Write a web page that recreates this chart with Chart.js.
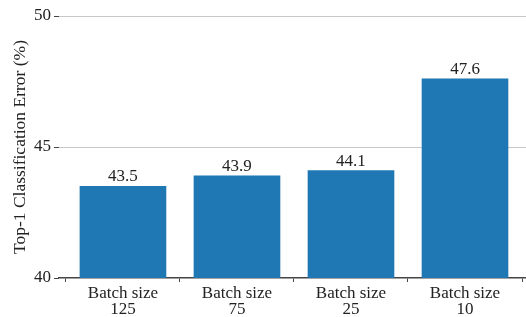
<!DOCTYPE html>
<html>
<head>
<meta charset="utf-8">
<script src="https://cdn.jsdelivr.net/npm/chart.js@4/dist/chart.umd.min.js"></script>
<style>
  html, body { margin: 0; padding: 0; background: #fff; }
</style>
</head>
<body>
<canvas id="chart" width="526" height="317"></canvas>
<script>
// data
const batchSizes = ['125', '75', '25', '10'];
const errors = [43.5, 43.9, 44.1, 47.6];
const yTicks = [40, 45, 50];

const FONT = '"Liberation Serif", "DejaVu Serif", serif';

// value labels above each bar
const valueLabels = {
  id: 'valueLabels',
  afterDatasetsDraw(chart) {
    const ctx = chart.ctx;
    const meta = chart.getDatasetMeta(0);
    ctx.save();
    ctx.font = '17px ' + FONT;
    ctx.fillStyle = '#222';
    ctx.textAlign = 'center';
    ctx.textBaseline = 'bottom';
    meta.data.forEach((bar, i) => {
      ctx.fillText(errors[i].toFixed(1), bar.x, bar.y - 1);
    });
    ctx.restore();
  }
};

new Chart(document.getElementById('chart'), {
  type: 'bar',
  data: {
    datasets: [{
      data: errors.map((v, i) => ({ x: i, y: v })),
      backgroundColor: '#1f77b4',
      barThickness: 86,
      borderWidth: 0
    }]
  },
  options: {
    responsive: false,
    animation: false,
    layout: { padding: { top: 16, right: 0, bottom: 0, left: 0 } },
    plugins: {
      legend: { display: false },
      tooltip: { enabled: false }
    },
    scales: {
      x: {
        type: 'linear',
        offset: false,
        min: -0.561,
        max: 3.535,
        afterBuildTicks: s => { s.ticks = batchSizes.map((b, i) => ({ value: i })); },
        afterFit: s => { s.height = 39; },
        ticks: {
          font: { family: FONT, size: 17, lineHeight: 0.92 },
          color: '#222',
          padding: 4,
          maxRotation: 0,
          callback: v => ['Batch size', batchSizes[v]]
        },
        grid: { drawOnChartArea: false, tickLength: 4, color: '#444' },
        border: { display: true, color: '#444', width: 1.5 }
      },
      y: {
        min: 40,
        max: 50,
        afterBuildTicks: s => { s.ticks = yTicks.map(v => ({ value: v })); },
        afterFit: s => { s.width = 59; },
        ticks: {
          font: { family: FONT, size: 17 },
          color: '#222',
          padding: 3
        },
        grid: {
          color: c => (c.tick && c.tick.value === 40) ? 'rgba(0,0,0,0)' : '#c8c8c8',
          tickColor: '#444',
          tickLength: 5,
          lineWidth: 1
        },
        border: { display: false },
        title: {
          display: true,
          text: 'Top-1 Classification Error (%)',
          font: { family: FONT, size: 17.5 },
          color: '#222',
          padding: { top: 10, bottom: 0 }
        }
      }
    }
  },
  plugins: [valueLabels]
});
</script>
</body>
</html>
